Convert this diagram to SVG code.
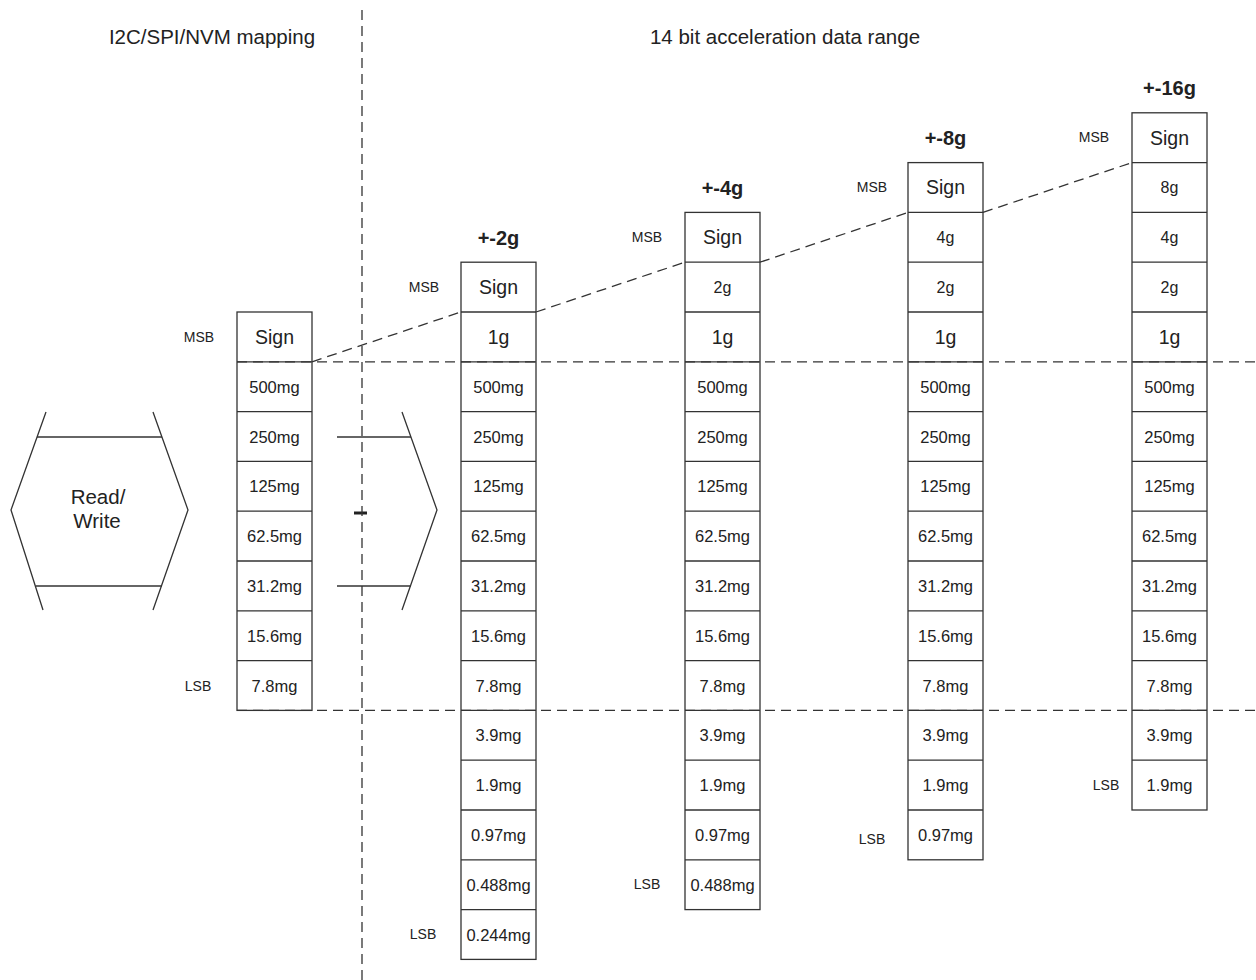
<svg xmlns="http://www.w3.org/2000/svg" width="1256" height="980" viewBox="0 0 1256 980">
<style>
text{font-family:"Liberation Sans",Arial,sans-serif;fill:#222;text-anchor:middle}
.t{font-size:20.5px}
.h{font-size:20px;font-weight:bold}
.s{font-size:19.5px}
.g{font-size:16px}
.m{font-size:16.5px}
.l{font-size:14px}
.box{fill:#fff;stroke:#333;stroke-width:1.3}
.ln{stroke:#333;stroke-width:1.3;fill:none}
.d{stroke:#333;stroke-width:1.3;fill:none;stroke-dasharray:10 6}
</style>
<rect width="1256" height="980" fill="#fff"/>
<g id="titles">
<text class="t" x="212" y="44">I2C/SPI/NVM mapping</text>
<text class="t" x="785" y="44">14 bit acceleration data range</text>
</g>
<g id="readwrite">
<polyline class="ln" points="46,412 11,510 43,610"/>
<polyline class="ln" points="153,412 188,510 153,610"/>
<line class="ln" x1="37" y1="437" x2="162" y2="437"/>
<line class="ln" x1="36" y1="586" x2="162" y2="586"/>
<text class="t" x="98" y="504">Read/</text>
<text class="t" x="97" y="528">Write</text>
</g>
<g id="readonly">
<polyline class="ln" points="402,412 437,510 402,610"/>
<line class="ln" x1="337" y1="437" x2="411" y2="437"/>
<line class="ln" x1="337" y1="586" x2="411" y2="586"/>
<rect x="354" y="511.5" width="13" height="3" fill="#222"/>
</g>
<g id="col-map">
<rect class="box" x="237" y="312" width="75" height="398.4"/>
<path class="ln" d="M237 361.8H312M237 411.6H312M237 461.4H312M237 511.2H312M237 561H312M237 610.8H312M237 660.6H312"/>
<text class="s" x="274.5" y="343.7">Sign</text>
<text class="m" x="274.5" y="392.7">500mg</text>
<text class="m" x="274.5" y="442.5">250mg</text>
<text class="m" x="274.5" y="492.3">125mg</text>
<text class="m" x="274.5" y="542.1">62.5mg</text>
<text class="m" x="274.5" y="591.9">31.2mg</text>
<text class="m" x="274.5" y="641.7">15.6mg</text>
<text class="m" x="274.5" y="691.5">7.8mg</text>
<text class="l" x="199" y="342">MSB</text>
<text class="l" x="198" y="691">LSB</text>
</g>
<g id="col-2g">
<text class="h" x="498.5" y="244.5">+-2g</text>
<rect class="box" x="461" y="262.2" width="75" height="697.2"/>
<path class="ln" d="M461 312H536M461 361.8H536M461 411.6H536M461 461.4H536M461 511.2H536M461 561H536M461 610.8H536M461 660.6H536M461 710.4H536M461 760.2H536M461 810H536M461 859.8H536M461 909.6H536"/>
<text class="s" x="498.5" y="293.9">Sign</text>
<text class="s" x="498.5" y="343.7">1g</text>
<text class="m" x="498.5" y="392.7">500mg</text>
<text class="m" x="498.5" y="442.5">250mg</text>
<text class="m" x="498.5" y="492.3">125mg</text>
<text class="m" x="498.5" y="542.1">62.5mg</text>
<text class="m" x="498.5" y="591.9">31.2mg</text>
<text class="m" x="498.5" y="641.7">15.6mg</text>
<text class="m" x="498.5" y="691.5">7.8mg</text>
<text class="m" x="498.5" y="741.3">3.9mg</text>
<text class="m" x="498.5" y="791.1">1.9mg</text>
<text class="m" x="498.5" y="840.9">0.97mg</text>
<text class="m" x="498.5" y="890.7">0.488mg</text>
<text class="m" x="498.5" y="940.5">0.244mg</text>
<text class="l" x="424" y="292">MSB</text>
<text class="l" x="423" y="939">LSB</text>
</g>
<g id="col-4g">
<text class="h" x="722.5" y="194.7">+-4g</text>
<rect class="box" x="685" y="212.4" width="75" height="697.2"/>
<path class="ln" d="M685 262.2H760M685 312H760M685 361.8H760M685 411.6H760M685 461.4H760M685 511.2H760M685 561H760M685 610.8H760M685 660.6H760M685 710.4H760M685 760.2H760M685 810H760M685 859.8H760"/>
<text class="s" x="722.5" y="244.1">Sign</text>
<text class="g" x="722.5" y="292.8">2g</text>
<text class="s" x="722.5" y="343.7">1g</text>
<text class="m" x="722.5" y="392.7">500mg</text>
<text class="m" x="722.5" y="442.5">250mg</text>
<text class="m" x="722.5" y="492.3">125mg</text>
<text class="m" x="722.5" y="542.1">62.5mg</text>
<text class="m" x="722.5" y="591.9">31.2mg</text>
<text class="m" x="722.5" y="641.7">15.6mg</text>
<text class="m" x="722.5" y="691.5">7.8mg</text>
<text class="m" x="722.5" y="741.3">3.9mg</text>
<text class="m" x="722.5" y="791.1">1.9mg</text>
<text class="m" x="722.5" y="840.9">0.97mg</text>
<text class="m" x="722.5" y="890.7">0.488mg</text>
<text class="l" x="647" y="242">MSB</text>
<text class="l" x="647" y="889">LSB</text>
</g>
<g id="col-8g">
<text class="h" x="945.5" y="144.9">+-8g</text>
<rect class="box" x="908" y="162.6" width="75" height="697.2"/>
<path class="ln" d="M908 212.4H983M908 262.2H983M908 312H983M908 361.8H983M908 411.6H983M908 461.4H983M908 511.2H983M908 561H983M908 610.8H983M908 660.6H983M908 710.4H983M908 760.2H983M908 810H983"/>
<text class="s" x="945.5" y="194.3">Sign</text>
<text class="g" x="945.5" y="243">4g</text>
<text class="g" x="945.5" y="292.8">2g</text>
<text class="s" x="945.5" y="343.7">1g</text>
<text class="m" x="945.5" y="392.7">500mg</text>
<text class="m" x="945.5" y="442.5">250mg</text>
<text class="m" x="945.5" y="492.3">125mg</text>
<text class="m" x="945.5" y="542.1">62.5mg</text>
<text class="m" x="945.5" y="591.9">31.2mg</text>
<text class="m" x="945.5" y="641.7">15.6mg</text>
<text class="m" x="945.5" y="691.5">7.8mg</text>
<text class="m" x="945.5" y="741.3">3.9mg</text>
<text class="m" x="945.5" y="791.1">1.9mg</text>
<text class="m" x="945.5" y="840.9">0.97mg</text>
<text class="l" x="872" y="192">MSB</text>
<text class="l" x="872" y="844">LSB</text>
</g>
<g id="col-16g">
<text class="h" x="1169.5" y="95.1">+-16g</text>
<rect class="box" x="1132" y="112.8" width="75" height="697.2"/>
<path class="ln" d="M1132 162.6H1207M1132 212.4H1207M1132 262.2H1207M1132 312H1207M1132 361.8H1207M1132 411.6H1207M1132 461.4H1207M1132 511.2H1207M1132 561H1207M1132 610.8H1207M1132 660.6H1207M1132 710.4H1207M1132 760.2H1207"/>
<text class="s" x="1169.5" y="144.5">Sign</text>
<text class="g" x="1169.5" y="193.2">8g</text>
<text class="g" x="1169.5" y="243">4g</text>
<text class="g" x="1169.5" y="292.8">2g</text>
<text class="s" x="1169.5" y="343.7">1g</text>
<text class="m" x="1169.5" y="392.7">500mg</text>
<text class="m" x="1169.5" y="442.5">250mg</text>
<text class="m" x="1169.5" y="492.3">125mg</text>
<text class="m" x="1169.5" y="542.1">62.5mg</text>
<text class="m" x="1169.5" y="591.9">31.2mg</text>
<text class="m" x="1169.5" y="641.7">15.6mg</text>
<text class="m" x="1169.5" y="691.5">7.8mg</text>
<text class="m" x="1169.5" y="741.3">3.9mg</text>
<text class="m" x="1169.5" y="791.1">1.9mg</text>
<text class="l" x="1094" y="142">MSB</text>
<text class="l" x="1106" y="790">LSB</text>
</g>
<g id="connectors">
<line class="d" x1="362" y1="10" x2="362" y2="980"/>
<line class="d" x1="237" y1="361.8" x2="1256" y2="361.8"/>
<line class="d" x1="237" y1="710.4" x2="1256" y2="710.4"/>
<line class="d" x1="312" y1="361.8" x2="461" y2="312"/>
<line class="d" x1="536" y1="312" x2="685" y2="262.2"/>
<line class="d" x1="760" y1="262.2" x2="908" y2="212.4"/>
<line class="d" x1="983" y1="212.4" x2="1132" y2="162.6"/>
</g>
</svg>
